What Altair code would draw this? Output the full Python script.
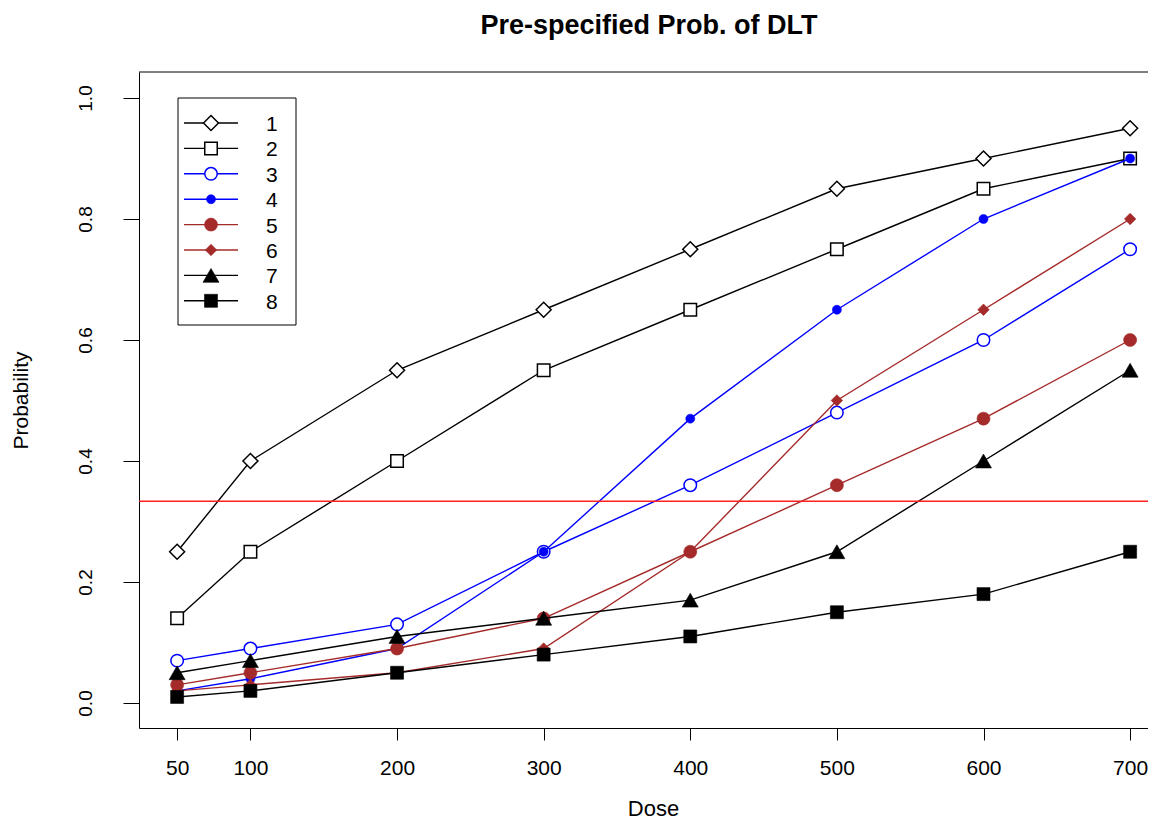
import altair as alt
import pandas as pd

# ---------------- data ----------------
dose = [50, 100, 200, 300, 400, 500, 600, 700]
series_names = ["1", "2", "3", "4", "5", "6", "7", "8"]
p1 = [0.25, 0.40, 0.55, 0.65, 0.75, 0.85, 0.90, 0.95]
p2 = [0.14, 0.25, 0.40, 0.55, 0.65, 0.75, 0.85, 0.90]
p3 = [0.07, 0.09, 0.13, 0.25, 0.36, 0.48, 0.60, 0.75]
p4 = [0.02, 0.04, 0.09, 0.25, 0.47, 0.65, 0.80, 0.90]
p5 = [0.03, 0.05, 0.09, 0.14, 0.25, 0.36, 0.47, 0.60]
p6 = [0.02, 0.03, 0.05, 0.09, 0.25, 0.50, 0.65, 0.80]
p7 = [0.05, 0.07, 0.11, 0.14, 0.17, 0.25, 0.40, 0.55]
p8 = [0.01, 0.02, 0.05, 0.08, 0.11, 0.15, 0.18, 0.25]
target = 1 / 3
y_ticks = [0.0, 0.2, 0.4, 0.6, 0.8, 1.0]
title_text = "Pre-specified Prob. of DLT"
probs = [p1, p2, p3, p4, p5, p6, p7, p8]

# ---------------- styles ----------------
BLACK, BLUE, BROWN = "#000000", "#0000FF", "#A52A2A"
# (colour, shape, open?, size)
styles = [
    (BLACK, "diamond", True, 225),
    (BLACK, "square", True, 156),
    (BLUE, "circle", True, 156),
    (BLUE, "circle", False, 81),
    (BROWN, "circle", False, 169),
    (BROWN, "diamond", False, 132),
    (BLACK, "triangle-up", False, 256),
    (BLACK, "square", False, 169),
]

FONT = "Liberation Sans"
W, H = 1009, 656
LEFT, TOP = 131, 64

xs = alt.Scale(domain=[24, 24 + W / 1.46615], nice=False, zero=False)
ys = alt.Scale(domain=[-0.04132, 1.04298], nice=False, zero=False)

xaxis = alt.Axis(
    values=dose, title="Dose", grid=False,
    domainColor="black", domainWidth=1, tickColor="black", tickWidth=1, tickSize=12,
    labelFont=FONT, labelFontSize=21, labelColor="black", labelPadding=34,
    labelBaseline="alphabetic", labelFlush=False, labelOverlap=False,
    titleFont=FONT, titleFontSize=22, titleFontWeight="normal", titleColor="black",
    titleX=514, titleY=87, titleBaseline="alphabetic", titleAlign="center",
)
yaxis = alt.Axis(
    values=y_ticks, format=".1f", title="Probability", grid=False,
    domainColor="black", domainWidth=1, tickColor="black", tickWidth=1, tickSize=16,
    labelFont=FONT, labelFontSize=19, labelColor="black", labelPadding=32,
    labelAngle=270, labelAlign="center", labelBaseline="alphabetic",
    labelFlush=False, labelOverlap=False,
    titleFont=FONT, titleFontSize=21, titleFontWeight="normal", titleColor="black",
    titleAngle=270, titleX=-112, titleY=328, titleAlign="center", titleBaseline="alphabetic",
)


def enc():
    return dict(
        x=alt.X("dose:Q", scale=xs, axis=xaxis),
        y=alt.Y("prob:Q", scale=ys, axis=yaxis),
    )


def point_mark(color, shape, is_open, size):
    if is_open:
        return dict(shape=shape, filled=True, fill="white", fillOpacity=1, stroke=color,
                    strokeWidth=1.5, size=size, opacity=1)
    return dict(shape=shape, filled=True, fill=color, fillOpacity=1, stroke=color,
                strokeWidth=0.6, size=size, opacity=1)


layers = []
for name, pr, (color, shape, is_open, size) in zip(series_names, probs, styles):
    df = pd.DataFrame({"dose": dose, "prob": pr, "series": name})
    layers.append(alt.Chart(df).mark_line(color=color, strokeWidth=1.4).encode(**enc()))
    layers.append(alt.Chart(df).mark_point(**point_mark(color, shape, is_open, size)).encode(**enc()))

# reference line at target probability
layers.append(
    alt.Chart(pd.DataFrame({"prob": [target]}))
    .mark_rule(color="#FF2020", strokeWidth=1.5)
    .encode(y=alt.Y("prob:Q", scale=ys, axis=yaxis))
)

one = pd.DataFrame({"k": [0]})
# top frame line
layers.append(
    alt.Chart(one).mark_rule(color="black", strokeWidth=1)
    .encode(x=alt.value(0), x2=alt.value(W), y=alt.value(0))
)

# chart title (as text mark above the plot area)
layers.append(
    alt.Chart(pd.DataFrame({"t": [title_text]}))
    .mark_text(font=FONT, fontSize=27, fontWeight="bold", color="black",
               align="center", baseline="alphabetic")
    .encode(x=alt.value(510), y=alt.value(-38), text=alt.Text("t:N"))
)

# legend box
layers.append(
    alt.Chart(one).mark_rect(fill="white", fillOpacity=0, stroke="black", strokeWidth=1)
    .encode(x=alt.value(39), x2=alt.value(157), y=alt.value(26), y2=alt.value(253))
)
for i, (name, (color, shape, is_open, size)) in enumerate(zip(series_names, styles)):
    ly = 51 + 25.4 * i
    ldf = pd.DataFrame({"series": [name]})
    layers.append(
        alt.Chart(ldf).mark_rule(color=color, strokeWidth=1.4)
        .encode(x=alt.value(45), x2=alt.value(99), y=alt.value(ly))
    )
    layers.append(
        alt.Chart(ldf).mark_point(**point_mark(color, shape, is_open, size))
        .encode(x=alt.value(72), y=alt.value(ly))
    )
    layers.append(
        alt.Chart(ldf).mark_text(font=FONT, fontSize=21, color="black", align="left",
                                 baseline="alphabetic")
        .encode(x=alt.value(127), y=alt.value(ly + 8), text=alt.Text("series:N"))
    )

chart = (
    alt.layer(*layers)
    .properties(
        width=W, height=H,
        padding={"left": LEFT, "top": TOP, "right": 0, "bottom": 92},
        autosize=alt.AutoSizeParams(type="none"),
        background="white",
    )
    .configure_view(stroke=None)
)

chart.save("out.html", embed_options={"renderer": "svg", "actions": False})
